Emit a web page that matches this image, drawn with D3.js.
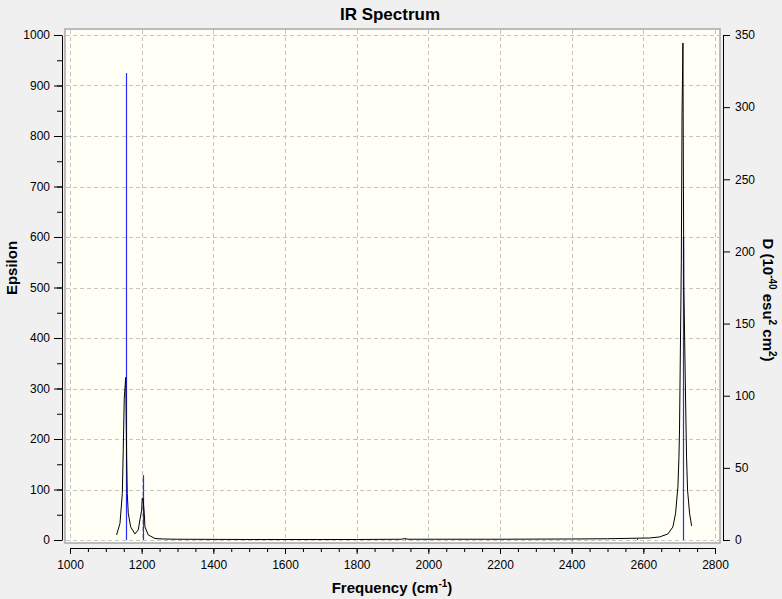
<!DOCTYPE html>
<html>
<head>
<meta charset="utf-8">
<script src="https://cdn.jsdelivr.net/npm/d3@7"></script>
<style>
  html, body { margin: 0; padding: 0; background: #f0f0f0; }
  svg { display: block; font-family: "Liberation Sans", Arial, sans-serif; }
</style>
</head>
<body>
<div id="chart"></div>
<script>
// spectrum: frequency (cm-1) and epsilon
const specFreq = [1130, 1139.5, 1146, 1148.7, 1151.4, 1155.5, 1158.1, 1159.8, 1162.6, 1169.3, 1181.3,
  1190.5, 1195.2, 1200, 1201.6, 1203.8, 1207.2, 1209.2, 1218.4, 1237, 1260, 1300, 1500, 1800, 1925,
  1934, 1943, 2200, 2400, 2500, 2580, 2617.6, 2645, 2668.6, 2682.6, 2690, 2696.5, 2699.3, 2701, 2706,
  2708, 2710.5, 2711.3, 2713, 2717.8, 2720.6, 2723.4, 2729, 2734.7];
const specEps = [10, 33, 92, 182, 281, 322, 162, 92, 53, 26, 12,
  20, 40, 59, 83, 82, 53, 26, 10, 3, 2, 1.5, 1, 1, 1.5,
  3, 1.5, 1.5, 2, 2.5, 3.5, 4, 6, 12, 26, 53, 106, 162, 218, 550,
  842, 984, 822, 505, 283, 164, 99, 53, 28];

// computed transitions (sticks), D in 10^-40 esu^2 cm^2
const stickFreq = [1156, 1204, 1934, 2583, 2711];
const stickD = [323.6, 45, 0.6, 0.8, 210];

const xTicks = [1000, 1200, 1400, 1600, 1800, 2000, 2200, 2400, 2600, 2800];
const epsTicks = [0, 100, 200, 300, 400, 500, 600, 700, 800, 900, 1000];
const dTicks = [0, 50, 100, 150, 200, 250, 300, 350];

const W = 782, H = 599;
const plot = { left: 65, top: 29, right: 720, bottom: 543 };

const svg = d3.select("#chart").append("svg")
  .attr("width", W).attr("height", H);

const x = d3.scaleLinear().domain([1000, 2800]).range([70, 715]);
const yL = d3.scaleLinear().domain([0, 1000]).range([540, 35]);
const yR = d3.scaleLinear().domain([0, 350]).range([540, 35]);

// plot frame
svg.append("rect")
  .attr("x", plot.left).attr("y", plot.top)
  .attr("width", plot.right - plot.left).attr("height", plot.bottom - plot.top)
  .attr("fill", "#fffff6")
  .attr("stroke", "#a8a8a8").attr("stroke-width", 1.5);

svg.append("clipPath").attr("id", "clip")
  .append("rect")
  .attr("x", plot.left + 1).attr("y", plot.top + 1)
  .attr("width", plot.right - plot.left - 2).attr("height", plot.bottom - plot.top - 2);

// grid
const grid = svg.append("g").attr("stroke", "#c4c4c4").attr("stroke-dasharray", "4,3")
  .attr("shape-rendering", "crispEdges");
grid.selectAll(".gx").data(xTicks).join("line")
  .attr("x1", d => Math.round(x(d)) + 0.5).attr("x2", d => Math.round(x(d)) + 0.5)
  .attr("y1", plot.top + 1).attr("y2", plot.bottom - 1);
grid.selectAll(".gy").data(epsTicks).join("line")
  .attr("y1", d => Math.round(yL(d)) + 0.5).attr("y2", d => Math.round(yL(d)) + 0.5)
  .attr("x1", plot.left + 1).attr("x2", plot.right - 1);

// axes
const fmt = d3.format("d");
const axisFont = g => g.attr("font-family", "Liberation Sans, Arial, sans-serif")
  .attr("font-size", 12);

svg.append("g").attr("transform", "translate(62,0)")
  .call(d3.axisLeft(yL).tickValues(d3.range(0, 1001, 50)).tickSize(5).tickFormat(""))
  .call(g => g.select(".domain").remove());
svg.append("g").attr("transform", "translate(62,0)")
  .call(d3.axisLeft(yL).tickValues(epsTicks).tickSize(8).tickSizeOuter(0).tickPadding(4).tickFormat(fmt))
  .call(axisFont)
  .call(g => g.selectAll("text").attr("fill", "#000"));

svg.append("g").attr("transform", "translate(723,0)")
  .call(d3.axisRight(yR).tickValues(dTicks).tickSize(7).tickSizeOuter(0).tickPadding(5).tickFormat(fmt))
  .call(axisFont)
  .call(g => g.selectAll("text").attr("fill", "#000"));

svg.append("g").attr("transform", "translate(0,548)")
  .call(d3.axisBottom(x).tickValues(d3.range(1000, 2801, 50)).tickSize(4).tickFormat(""))
  .call(g => g.select(".domain").remove());
svg.append("g").attr("transform", "translate(0,548)")
  .call(d3.axisBottom(x).tickValues(xTicks).tickSize(6).tickSizeOuter(0).tickPadding(6).tickFormat(fmt))
  .call(axisFont)
  .call(g => g.selectAll("text").attr("fill", "#000"));

// sticks
const marks = svg.append("g").attr("clip-path", "url(#clip)");
marks.selectAll(".stick").data(stickFreq).join("line")
  .attr("x1", d => Math.round(x(d)) + 0.5).attr("x2", d => Math.round(x(d)) + 0.5)
  .attr("y1", yR(0)).attr("y2", (d, i) => yR(stickD[i]))
  .attr("stroke", "#2a2aff").attr("stroke-width", 1.2);

// spectrum
const specData = specFreq.map((f, i) => [f, specEps[i]]);
marks.append("path")
  .datum(specData)
  .attr("fill", "none").attr("stroke", "#000").attr("stroke-width", 1)
  .attr("d", d3.line().x(d => x(d[0])).y(d => yL(d[1])));

// titles
svg.append("text").attr("x", 390).attr("y", 20).attr("text-anchor", "middle")
  .attr("font-weight", "bold").attr("font-size", 17).text("IR Spectrum");

const xl = svg.append("text").attr("x", 392).attr("y", 593).attr("text-anchor", "middle")
  .attr("font-weight", "bold").attr("font-size", 15);
xl.append("tspan").text("Frequency (cm");
xl.append("tspan").attr("font-size", 10).attr("dy", -6).text("-1");
xl.append("tspan").attr("dy", 6).text(")");

svg.append("text").attr("transform", "translate(17,268) rotate(-90)")
  .attr("text-anchor", "middle").attr("font-weight", "bold").attr("font-size", 15)
  .text("Epsilon");

const rl = svg.append("text").attr("transform", "translate(763,300) rotate(90)")
  .attr("text-anchor", "middle").attr("font-weight", "bold").attr("font-size", 15);
rl.append("tspan").text("D (10");
rl.append("tspan").attr("font-size", 10).attr("dy", -6).text("-40");
rl.append("tspan").attr("dy", 6).text(" esu");
rl.append("tspan").attr("font-size", 10).attr("dy", -6).text("2");
rl.append("tspan").attr("dy", 6).text(" cm");
rl.append("tspan").attr("font-size", 10).attr("dy", -6).text("2");
rl.append("tspan").attr("dy", 6).text(")");
</script>
</body>
</html>
